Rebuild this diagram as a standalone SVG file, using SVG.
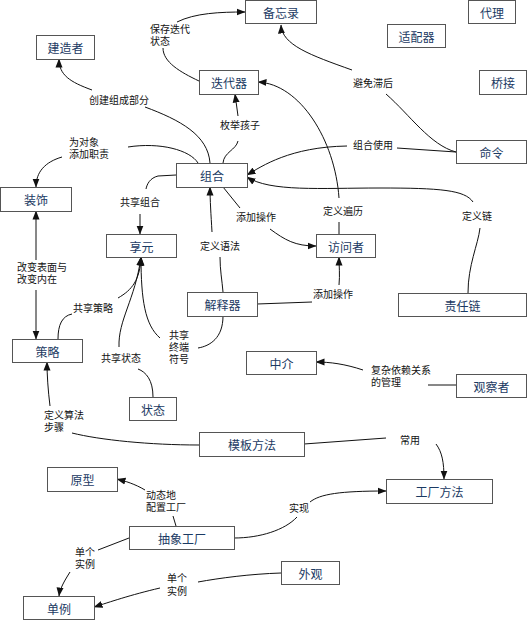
<svg xmlns="http://www.w3.org/2000/svg" width="527" height="620" viewBox="0 0 527 620">
<style>
.n rect{fill:#fff;stroke:#555;stroke-width:1}
.n text{font-family:"Noto Sans CJK SC","Noto Sans",sans-serif;font-size:12px;fill:#1b3a63;text-anchor:middle;dominant-baseline:central}
.e path{fill:none;stroke:#111;stroke-width:1}
.e path.a{marker-end:url(#ah)}
.l text{font-family:"Noto Sans CJK SC","Noto Sans",sans-serif;font-size:10px;fill:#111}
</style>
<defs>
<marker id="ah" markerWidth="9" markerHeight="8" refX="8.5" refY="4" orient="auto" markerUnits="userSpaceOnUse">
<path d="M0,0.5 L9,4 L0,7.5 Z" fill="#111"/>
</marker>
</defs>
<rect width="527" height="620" fill="#fff"/>
<g class="e" id="connectors">
<path d="M199,81 C180,72 163,62 163,48"/>
<path class="a" d="M177,22 C195,13 220,12 245,12"/>
<path d="M210,163 C208,135 180,120 145,107"/>
<path class="a" d="M92,90 C70,82 59,75 59,59"/>
<path d="M223,163 C224,152 236,150 238,141"/>
<path class="a" d="M238,116 L235,94"/>
<path d="M198,163 C190,150 160,142 128,147"/>
<path class="a" d="M62,157 C45,162 36,172 36,187"/>
<path d="M176,175 L158,176 C150,178 147,184 146,189"/>
<path class="a" d="M140,214 L140,234"/>
<path d="M223,292 C222,280 220,270 220,257"/>
<path class="a" d="M212,232 C211,215 210,200 210,187"/>
<path d="M223,187 L240,208"/>
<path class="a" d="M270,229 C285,240 295,246 316,246"/>
<path d="M339,234 L339,222"/>
<path class="a" d="M339,198 C335,140 300,84 258,82"/>
<path d="M456,152 L397,148"/>
<path class="a" d="M347,146 C290,147 262,166 247,175"/>
<path d="M456,152 C430,145 410,115 386,94"/>
<path class="a" d="M352,70 C310,55 282,45 281,25"/>
<path d="M468,293 C468,265 478,245 480,228"/>
<path class="a" d="M473,202 C465,190 440,188 380,188 C320,188 270,192 247,177"/>
<path class="a" d="M36,260 L36,211"/>
<path class="a" d="M36,290 L36,339"/>
<path d="M58,339 C58,325 62,316 72,314"/>
<path class="a" d="M118,298 C132,290 140,280 141,257"/>
<path d="M153,397 C153,380 146,372 138,369"/>
<path class="a" d="M119,347 C118,320 135,300 141,257"/>
<path d="M223,316 C223,338 210,346 198,348"/>
<path class="a" d="M160,338 C145,325 141,300 141,257"/>
<path d="M257,304 L312,302"/>
<path class="a" d="M339,285 C340,275 339,265 339,257"/>
<path d="M456,385 L428,385"/>
<path class="a" d="M363,370 C345,364 330,362 316,362"/>
<path d="M199,445 C150,445 100,440 72,433"/>
<path class="a" d="M50,406 C48,390 47,375 47,362"/>
<path d="M304,444 L386,438"/>
<path class="a" d="M436,444 C442,452 444,462 444,479"/>
<path d="M234,538 C260,538 285,530 297,517"/>
<path class="a" d="M310,502 C320,494 340,491 386,491"/>
<path d="M176,526 L173,516"/>
<path class="a" d="M145,490 C135,484 125,481 117,479"/>
<path d="M129,538 L98,550"/>
<path class="a" d="M70,572 C65,580 60,588 59,596"/>
<path d="M281,573 C250,574 220,578 198,582"/>
<path class="a" d="M160,588 C130,595 110,602 94,607"/>
</g>
<g class="l" id="labels">
<text x="150" y="33">保存迭代<tspan x="150" dy="12">状态</tspan></text>
<text x="89" y="104">创建组成部分</text>
<text x="220" y="129">枚举孩子</text>
<text x="69" y="146">为对象<tspan x="69" dy="12">添加职责</tspan></text>
<text x="120" y="206">共享组合</text>
<text x="200" y="250">定义语法</text>
<text x="236" y="221">添加操作</text>
<text x="323" y="215">定义遍历</text>
<text x="353" y="149">组合使用</text>
<text x="353" y="87">避免滞后</text>
<text x="462" y="220">定义链</text>
<text x="17" y="271">改变表面与<tspan x="17" dy="11.5">改变内在</tspan></text>
<text x="73" y="312">共享策略</text>
<text x="101" y="362">共享状态</text>
<text x="169" y="339">共享<tspan x="169" dy="12">终端</tspan><tspan x="169" dy="12">符号</tspan></text>
<text x="313" y="298">添加操作</text>
<text x="371" y="374">复杂依赖关系<tspan x="371" dy="12">的管理</tspan></text>
<text x="44" y="419">定义算法<tspan x="44" dy="12">步骤</tspan></text>
<text x="400" y="444">常用</text>
<text x="289" y="512">实现</text>
<text x="146" y="499">动态地<tspan x="146" dy="12">配置工厂</tspan></text>
<text x="75" y="556">单个<tspan x="75" dy="12">实例</tspan></text>
<text x="167" y="582">单个<tspan x="167" dy="13">实例</tspan></text>
</g>
<g class="n" id="memento"><rect x="245.5" y="0.5" width="71" height="23"/><text x="281" y="12">备忘录</text></g>
<g class="n" id="proxy"><rect x="468.5" y="0.5" width="47" height="23"/><text x="492" y="12">代理</text></g>
<g class="n" id="adapter"><rect x="387.5" y="24.5" width="58" height="23"/><text x="416.5" y="36">适配器</text></g>
<g class="n" id="bridge"><rect x="479.5" y="70.5" width="47" height="24"/><text x="503" y="82.5">桥接</text></g>
<g class="n" id="builder"><rect x="36.5" y="35.5" width="58" height="24"/><text x="65.5" y="47.5">建造者</text></g>
<g class="n" id="iterator"><rect x="199.5" y="70.5" width="59" height="24"/><text x="229" y="82.5">迭代器</text></g>
<g class="n" id="command"><rect x="456.5" y="140.5" width="70" height="23"/><text x="491.5" y="152">命令</text></g>
<g class="n" id="composite"><rect x="176.5" y="163.5" width="71" height="24"/><text x="212" y="175.5">组合</text></g>
<g class="n" id="decorator"><rect x="0.5" y="187.5" width="71" height="24"/><text x="36" y="199.5">装饰</text></g>
<g class="n" id="flyweight"><rect x="106.5" y="234.5" width="70" height="23"/><text x="141.5" y="246">享元</text></g>
<g class="n" id="visitor"><rect x="316.5" y="234.5" width="59" height="23"/><text x="346" y="246">访问者</text></g>
<g class="n" id="interpreter"><rect x="187.5" y="292.5" width="70" height="24"/><text x="222.5" y="304.5">解释器</text></g>
<g class="n" id="chain"><rect x="398.5" y="293.5" width="128" height="23"/><text x="462.5" y="305">责任链</text></g>
<g class="n" id="strategy"><rect x="12.5" y="339.5" width="70" height="23"/><text x="47.5" y="351">策略</text></g>
<g class="n" id="mediator"><rect x="246.5" y="351.5" width="70" height="23"/><text x="281.5" y="363">中介</text></g>
<g class="n" id="observer"><rect x="456.5" y="374.5" width="70" height="23"/><text x="491.5" y="386">观察者</text></g>
<g class="n" id="state"><rect x="129.5" y="397.5" width="47" height="23"/><text x="153" y="409">状态</text></g>
<g class="n" id="template"><rect x="199.5" y="432.5" width="105" height="24"/><text x="252" y="444.5">模板方法</text></g>
<g class="n" id="prototype"><rect x="47.5" y="467.5" width="70" height="24"/><text x="82.5" y="479.5">原型</text></g>
<g class="n" id="factorymethod"><rect x="386.5" y="479.5" width="106" height="24"/><text x="439.5" y="491.5">工厂方法</text></g>
<g class="n" id="abstractfactory"><rect x="129.5" y="526.5" width="105" height="23"/><text x="182" y="538">抽象工厂</text></g>
<g class="n" id="facade"><rect x="281.5" y="561.5" width="58" height="23"/><text x="310.5" y="573">外观</text></g>
<g class="n" id="singleton"><rect x="23.5" y="596.5" width="71" height="23"/><text x="59" y="608">单例</text></g>
</svg>
